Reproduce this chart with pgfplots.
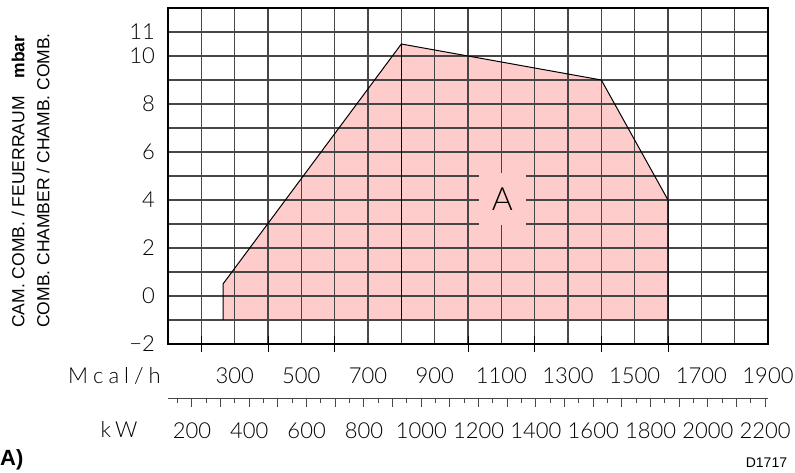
\documentclass[border=0pt]{standalone}
\usepackage{fontspec}
\setmainfont{Liberation Sans}
\newfontfamily\cad{Lato Light}
\usepackage{pgfplots}
\pgfplotsset{compat=1.18}
\definecolor{areapink}{RGB}{255,204,204}
\definecolor{gridgray}{RGB}{70,70,70}
\begin{document}
\begin{tikzpicture}
% base axis: fill and tick labels
\begin{axis}[name=main,
  scale only axis, width=600pt, height=336pt,
  xmin=100, xmax=1900, ymin=-2, ymax=12,
  xtick={300,500,700,900,1100,1300,1500,1700,1900},
  xticklabels={300,500,700,900,1100,1300,1500,1700,1900},
  ytick={-2,0,2,4,6,8,10,11},
  yticklabels={−2,0,2,4,6,8,10,11},
  major tick length=0pt, minor tick length=0pt,
  xtick pos=bottom, ytick pos=left,
  axis line style={draw=none},
  ticklabel style={font=\cad\fontsize{22}{22}\selectfont},
  xticklabel style={anchor=center, yshift=-32pt},
  yticklabel style={anchor=east, xshift=-13pt, inner sep=0pt},
]
\addplot[fill=areapink, draw=none] coordinates {(265,-1) (265,0.5) (800,10.5) (1400,9) (1600,4) (1600,-1)} -- cycle;
\coordinate (Apos) at (axis cs:1100,4);
\end{axis}
% overlay axis: grid, frame, ticks and the envelope outline above the fill
\begin{axis}[at={(0pt,0pt)}, anchor=south west,
  scale only axis, width=600pt, height=336pt,
  xmin=100, xmax=1900, ymin=-2, ymax=12,
  xtick={100,200,...,1900}, ytick={-2,-1,...,12},
  xticklabels={}, yticklabels={},
  grid=major,
  major grid style={gridgray, line width=1.1pt},
  major tick length=0pt,
  xtick pos=bottom, ytick pos=left,
  axis line style={black, line width=1.1pt},
  extra x ticks={200,400,600,1000,1200,1400,1600},
  extra x tick labels={},
  extra x tick style={grid=none, major tick length=16pt, tick align=center,
    tick style={black, line width=1pt}},
]
\addplot[black, line width=1pt] coordinates {(265,-1) (265,0.5) (800,10.5) (1400,9) (1600,4) (1600,-1)};
\addplot[black, line width=1pt] coordinates {(800,10.5) (800,-1)};
\end{axis}
% kW scale
\begin{axis}[at={(0pt,-55pt)}, anchor=south west,
  scale only axis, width=600pt, height=10pt,
  xmin=116.3, xmax=2209.7, ymin=0, ymax=1,
  axis y line=none, axis x line*=bottom,
  axis line style={gridgray, line width=1pt, -},
  xtick={200,400,600,800,1000,1200,1400,1600,1800,2000,2200},
  xticklabels={200,400,600,800,1000,1200,1400,1600,1800,2000,2200},
  extra x ticks={300,500,700,900,1100,1300,1500,1700,1900,2100},
  extra x tick labels={},
  minor xtick={150,250,...,2150},
  tick align=outside, major tick length=8pt, minor tick length=4pt,
  tick style={gridgray, line width=1pt},
  ticklabel style={font=\cad\fontsize{22}{22}\selectfont},
  xticklabel style={anchor=center, yshift=-24pt},
]
\end{axis}
\node[fill=areapink, inner sep=0pt, minimum width=47pt, minimum height=52pt,
  font=\cad\fontsize{32}{32}\selectfont] at ([xshift=1pt,yshift=1pt]Apos) {A};
\node[rotate=90, anchor=base west, inner sep=0pt, font=\fontsize{17.5}{17.5}\selectfont]
  at (-143.7pt,16pt) {CAM. COMB. / FEUERRAUM\hspace{18pt}\textbf{mbar}};
\node[rotate=90, anchor=base west, inner sep=0pt, font=\fontsize{17.5}{17.5}\selectfont]
  at (-118.7pt,16pt) {COMB. CHAMBER / CHAMB. COMB.};
\node[anchor=base, inner sep=0pt, font=\cad\fontsize{22}{22}\selectfont]
  at (-53.5pt,-40pt) {M\hspace{5pt}c\hspace{5pt}a\hspace{5pt}l\hspace{5pt}/\hspace{5pt}h};
\node[anchor=base, inner sep=0pt, font=\cad\fontsize{22}{22}\selectfont]
  at (-49pt,-94pt) {k\hspace{4pt}W};
\node[anchor=base east, inner sep=0pt, font=\fontsize{14}{14}\selectfont]
  at (619.3pt,-124pt) {D1717};
\node[anchor=base west, inner sep=0pt, font=\bfseries\fontsize{22}{22}\selectfont]
  at (-168pt,-122pt) {A)};
\pgfresetboundingbox
\path[use as bounding box] (-168pt,-129pt) rectangle (627pt,344pt);
\end{tikzpicture}
\end{document}
